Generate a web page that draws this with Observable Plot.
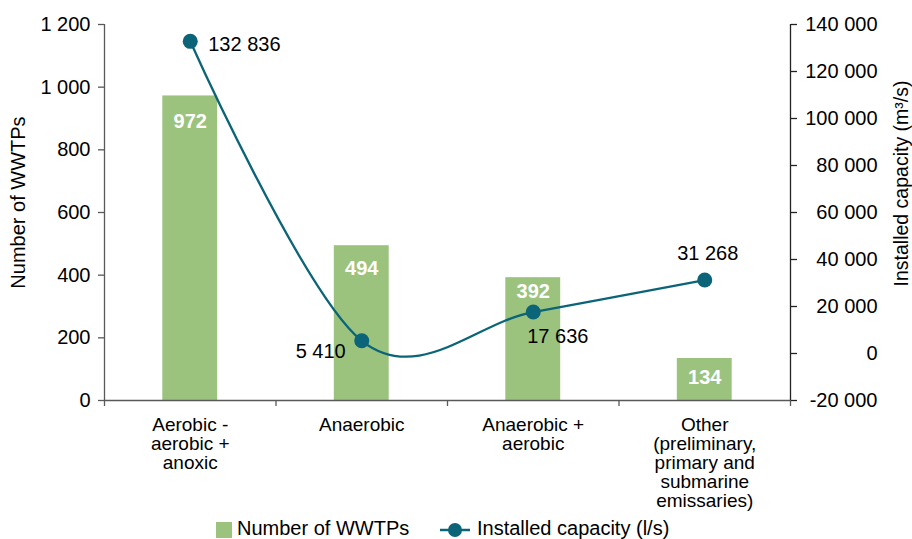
<!DOCTYPE html>
<html>
<head>
<meta charset="utf-8">
<script src="https://cdn.jsdelivr.net/npm/d3@7"></script>
<script src="https://cdn.jsdelivr.net/npm/@observablehq/plot@0.6"></script>
<style>
  html, body { margin: 0; padding: 0; background: #fff; }
  #chart svg { display: block; }
  #legend { position: relative; width: 912px; height: 25px; font-family: "Liberation Sans", Arial, sans-serif; font-size: 20px; color: #000; overflow: hidden; }
  #legend .sw { position: absolute; }
  #legend .lb { position: absolute; top: 4px; line-height: 20px; white-space: nowrap; }
</style>
</head>
<body>
<div id="chart"></div>
<div id="legend"></div>
<script>
// ---- data ----
const categories = [
  "Aerobic -\naerobic +\nanoxic",
  "Anaerobic",
  "Anaerobic +\naerobic",
  "Other\n(preliminary,\nprimary and\nsubmarine\nemissaries)"
];
const wwtps = [972, 494, 392, 134];
const capacity = [132836, 5410, 17636, 31268];
const leftTicks = [0, 200, 400, 600, 800, 1000, 1200];
const rightTicks = [-20000, 0, 20000, 40000, 60000, 80000, 100000, 120000, 140000];
const seriesNames = ["Number of WWTPs", "Installed capacity (l/s)"];
const leftTitle = "Number of WWTPs";
const rightTitle = "Installed capacity (m³/s)";

// ---- styling ----
const green = "#9BC37E";
const teal = "#0B6478";
const font = "Liberation Sans, Arial, sans-serif";

const fmt = d3.formatLocale({decimal: ".", thousands: " ", grouping: [3], currency: ["", ""], minus: "-"}).format(",d");

const yMax = leftTicks[leftTicks.length - 1];
const capMin = rightTicks[0], capMax = rightTicks[rightTicks.length - 1];
const toY = c => (c - capMin) / (capMax - capMin) * yMax;
const fromY = v => Math.round(v / yMax * (capMax - capMin) + capMin);

const idx = categories.map((_, i) => i);
const n = categories.length;
const bounds = d3.range(n + 1).map(i => i - 0.5);

function barLabel(k, dy) {
  return Plot.text([k], {x: i => i, y: i => wwtps[i], text: i => fmt(wwtps[i]), dy, fill: "#fff", fontWeight: "bold", fontSize: 20});
}
function capLabel(k, dx, dy, textAnchor) {
  return Plot.text([k], {x: i => i, y: i => toY(capacity[i]), text: i => fmt(capacity[i]), dx, dy, textAnchor, fill: "#000", fontSize: 20});
}

const chart = Plot.plot({
  width: 912,
  height: 514,
  marginLeft: 104,
  marginRight: 122,
  marginTop: 24,
  marginBottom: 114,
  style: {fontFamily: font, fontSize: "20px", color: "#000", background: "#fff"},
  x: {type: "linear", domain: [-0.5, n - 0.5], axis: null},
  y: {domain: [0, yMax], axis: null},
  marks: [
    Plot.rectY(idx, {x1: i => i - 0.16, x2: i => i + 0.16, y1: 0, y2: i => wwtps[i], fill: green}),
    Plot.ruleY([0], {x1: -0.5, x2: n - 0.5, stroke: "#595959", strokeWidth: 1.3}),
    Plot.ruleX([-0.5], {y1: 0, y2: yMax, stroke: "#595959", strokeWidth: 1.3}),
    Plot.ruleX([n - 0.5], {y1: 0, y2: yMax, stroke: "#222", strokeWidth: 1.3}),
    Plot.axisX({ticks: bounds, tickSize: 6, tickFormat: () => "", label: null, stroke: "#595959", strokeWidth: 1.3}),
    Plot.axisY({anchor: "left", ticks: leftTicks, tickSize: 6, tickPadding: 8, tickFormat: fmt, label: null, stroke: "#595959", strokeWidth: 1.3, fill: "#000"}),
    Plot.axisY({anchor: "right", ticks: rightTicks.map(toY), tickSize: 6, tickPadding: 81, textAnchor: "end", tickFormat: v => fmt(fromY(v)), label: null, stroke: "#222", strokeWidth: 1.3, fill: "#000"}),
    Plot.text(idx, {x: i => i, y: 0, text: i => categories[i], lineAnchor: "top", dy: 17, lineHeight: 1, fontSize: 19, fill: "#000"}),
    Plot.line(idx, {x: i => i, y: i => toY(capacity[i]), curve: "cardinal", stroke: teal, strokeWidth: 2.3}),
    Plot.dot(idx, {x: i => i, y: i => toY(capacity[i]), r: 7.5, fill: teal, stroke: "none"}),
    barLabel(0, 26), barLabel(1, 23), barLabel(2, 14), barLabel(3, 19),
    capLabel(0, 18, 3, "start"),
    capLabel(1, -16, 11, "end"),
    capLabel(2, -6, 25, "start"),
    capLabel(3, 3, -26, "middle"),
    Plot.text([leftTitle], {frameAnchor: "left", textAnchor: "middle", rotate: -90, dx: -86, dy: -10, fontSize: 20, fill: "#000"}),
    Plot.text([rightTitle], {frameAnchor: "right", textAnchor: "middle", rotate: -90, dx: 111, dy: -29, fontSize: 19.5, fill: "#000"})
  ]
});
document.getElementById("chart").appendChild(chart);

// ---- legend (HTML, below the SVG) ----
const legend = document.getElementById("legend");
legend.innerHTML = `
  <div class="sw" style="left:216px; top:8px; width:16px; height:16px; background:${green}"></div>
  <div class="lb" style="left:237px">${seriesNames[0]}</div>
  <svg class="sw" style="left:439px; top:5px" width="32" height="22"><line x1="1" x2="31" y1="11" y2="11" stroke="${teal}" stroke-width="2.5"/><circle cx="16" cy="11" r="7" fill="${teal}"/></svg>
  <div class="lb" style="left:477px">${seriesNames[1]}</div>
`;
</script>
</body>
</html>
